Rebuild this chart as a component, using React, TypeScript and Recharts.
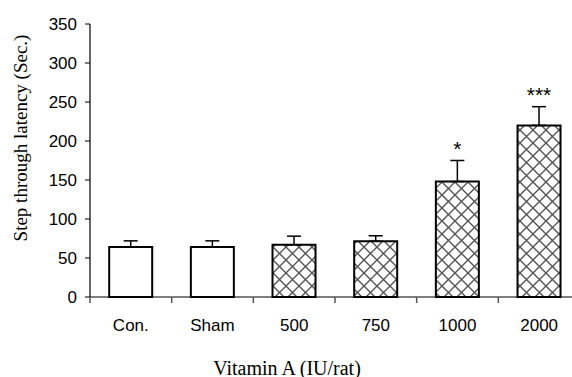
import { BarChart, Bar, XAxis, YAxis, ErrorBar, Cell, LabelList } from "recharts";

const groups = ["Con.", "Sham", "500", "750", "1000", "2000"];
const latency = [64, 64, 67, 71.5, 148, 220];
const sem = [8, 8, 11, 7, 27, 24];
const marks = ["", "", "", "", "*", "***"];
const hatched = [false, false, true, true, true, true];
const yTicks = [0, 50, 100, 150, 200, 250, 300, 350];

const data = groups.map((g, i) => ({
  group: g,
  latency: latency[i],
  err: [0, sem[i]],
  mark: marks[i],
}));

const CHART_W = 580;
const CHART_H = 377;
const Y_AXIS_W = 90;
const X_AXIS_H = 80;
const BAND = (CHART_W - Y_AXIS_W) / groups.length;
const AXIS_Y = CHART_H - X_AXIS_H;

const SANS = "'Liberation Sans', Arial, sans-serif";
const SERIF = "'Liberation Serif', 'Times New Roman', serif";

// star markers sit just above the top of each error bar
const renderMark = (props: any) => {
  const { x, y, width, height, value, index } = props;
  if (!value) return null;
  const perUnit = height / latency[index];
  const top = y - sem[index] * perUnit;
  return (
    <text x={x + width / 2} y={top - 5} textAnchor="middle" fontFamily={SANS} fontSize={21} fill="#000">
      {value}
    </text>
  );
};

// category label plus a short gray tick at the left edge of its band
const CatTick = (props: any) => {
  const { x, y, payload } = props;
  const edge = x - BAND / 2;
  return (
    <g>
      <line x1={edge} y1={AXIS_Y} x2={edge} y2={AXIS_Y + 6} stroke="#555" strokeWidth={1.5} />
      <text x={x} y={y + 1} dy="0.71em" textAnchor="middle" fontFamily={SANS} fontSize={17} fill="#000">
        {payload.value}
      </text>
    </g>
  );
};

const YTitle = () => (
  <text
    x={20}
    y={138}
    transform="rotate(-90, 20, 138)"
    textAnchor="middle"
    dominantBaseline="central"
    fontFamily={SERIF}
    fontSize={19}
    fill="#000"
  >
    Step through latency (Sec.)
  </text>
);

const XTitle = () => (
  <text x={287} y={375} textAnchor="middle" fontFamily={SERIF} fontSize={20} fill="#000">
    Vitamin A (IU/rat)
  </text>
);

export default function App() {
  return (
    <div
      style={{
        position: "fixed",
        left: 0,
        top: 0,
        width: 572,
        height: CHART_H,
        overflow: "hidden",
        background: "#fff",
      }}
    >
      <BarChart
        width={CHART_W}
        height={CHART_H}
        data={data}
        margin={{ top: 24, right: 0, bottom: 0, left: 0 }}
        barCategoryGap="23.5%"
      >
        <defs>
          <pattern id="hatch" width="13" height="13" patternUnits="userSpaceOnUse" x="0" y="0">
            <rect width="13" height="13" fill="#fff" />
            <path d="M0,0 L13,13 M13,0 L0,13" stroke="#555" strokeWidth={1.4} />
          </pattern>
        </defs>
        <XAxis
          dataKey="group"
          height={X_AXIS_H}
          axisLine={{ stroke: "#000", strokeWidth: 1.2 }}
          tickLine={false}
          tickSize={0}
          tickMargin={21}
          interval={0}
          tick={<CatTick />}
          label={{ content: () => <XTitle /> }}
        />
        <YAxis
          width={Y_AXIS_W}
          domain={[0, 350]}
          ticks={yTicks}
          tickSize={5}
          tickMargin={8}
          axisLine={{ stroke: "#000", strokeWidth: 1.2 }}
          tickLine={{ stroke: "#000" }}
          tick={{ fontFamily: SANS, fontSize: 17, fill: "#000" }}
          label={{ content: () => <YTitle /> }}
        />
        <Bar dataKey="latency" stroke="#000" strokeWidth={2} isAnimationActive={false}>
          {data.map((_, i) => (
            <Cell key={i} fill={hatched[i] ? "url(#hatch)" : "#fff"} />
          ))}
          <ErrorBar dataKey="err" direction="y" width={7} stroke="#000" strokeWidth={1.5} isAnimationActive={false} />
          <LabelList dataKey="mark" content={renderMark} />
        </Bar>
      </BarChart>
    </div>
  );
}
